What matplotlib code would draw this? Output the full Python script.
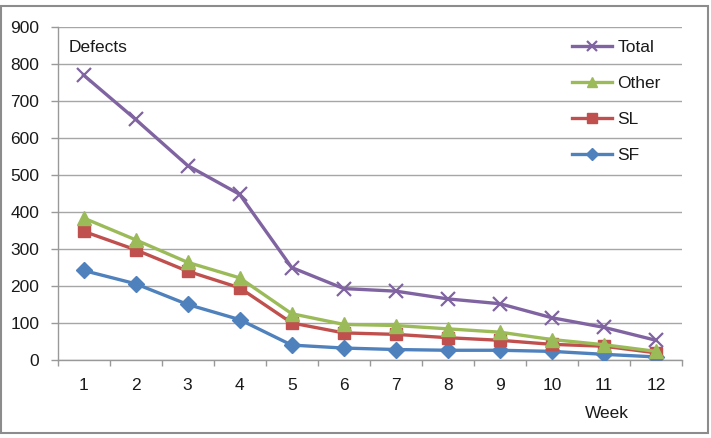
import matplotlib
matplotlib.use("Agg")
import matplotlib.pyplot as plt
from matplotlib.patches import Rectangle

weeks = [1, 2, 3, 4, 5, 6, 7, 8, 9, 10, 11, 12]
total = [770, 650, 525, 447, 249, 192, 185, 164, 151, 113, 87, 52]
other = [383, 324, 263, 221, 124, 95, 92, 83, 74, 54, 40, 22]
sl = [347, 297, 239, 194, 99, 72, 68, 59, 52, 41, 36, 18]
sf = [241, 205, 149, 108, 39, 31, 27, 25, 25, 22, 14, 7]
yticks = [0, 100, 200, 300, 400, 500, 600, 700, 800, 900]

plt.rcParams['font.family'] = ['Liberation Sans', 'DejaVu Sans']

fs = 12.5
fig = plt.figure(figsize=(7.11, 4.38), dpi=100)
W, H = 711, 438
ax = fig.add_axes([57.5 / W, 1 - 359.5 / H, (682 - 57.5) / W, (359.5 - 27) / H])

c_total = '#8064A2'
c_other = '#9BBB59'
c_sl = '#C0504D'
c_sf = '#4F81BD'

lw = 2.4
h_sf, = ax.plot(weeks, sf, color=c_sf, lw=lw, marker='D', ms=8.5, label='SF', zorder=3)
h_sl, = ax.plot(weeks, sl, color=c_sl, lw=lw, marker='s', ms=9, label='SL', zorder=4)
h_ot, = ax.plot(weeks, other, color=c_other, lw=lw, marker='^', ms=10.5, label='Other', zorder=5)
h_to, = ax.plot(weeks, total, color=c_total, lw=lw, marker='x', ms=10.5, mew=1.6, label='Total', zorder=6)

ax.set_xlim(0.5, 12.5)
ax.set_ylim(0, 900)
ax.set_yticks(yticks)
ax.set_xticks(weeks)
ax.set_xticks([w + 0.5 for w in [0] + weeks], minor=True)
ax.tick_params(axis='x', which='major', length=0, pad=13.5, labelsize=fs, colors='#1a1a1a')
ax.tick_params(axis='x', which='minor', length=4.5, width=1, color='#999999')
ax.tick_params(axis='y', length=5, width=1, color='#999999', pad=8, labelsize=fs, labelcolor='#1a1a1a')
ax.grid(axis='y', color='#A6A6A6', lw=1)
ax.set_axisbelow(True)
for s in ['top', 'right']:
    ax.spines[s].set_visible(False)
for s in ['left', 'bottom']:
    ax.spines[s].set_color('#999999')
    ax.spines[s].set_linewidth(1)

fig.text(69 / W, 1 - 47.5 / H, 'Defects', fontsize=fs, va='center', ha='left', color='#1a1a1a')
fig.text(585 / W, 1 - 414 / H, 'Week', fontsize=fs, va='center', ha='left', color='#1a1a1a')

leg = fig.legend(handles=[h_to, h_ot, h_sl, h_sf], loc='upper left',
                 bbox_to_anchor=(572 / W, 1 - 40 / H), frameon=False,
                 fontsize=fs, handlelength=2.3, handletextpad=0.3,
                 labelspacing=1.2, borderpad=0, borderaxespad=0, markerscale=0.75)
for t in leg.get_texts():
    t.set_color('#1a1a1a')

fig.patches.append(Rectangle((1 / W, 5 / H), 707 / W, (432 - 5) / H, transform=fig.transFigure,
                             fill=False, edgecolor='#8c8c8c', lw=1.5))

fig.savefig('out.png', dpi=100)
